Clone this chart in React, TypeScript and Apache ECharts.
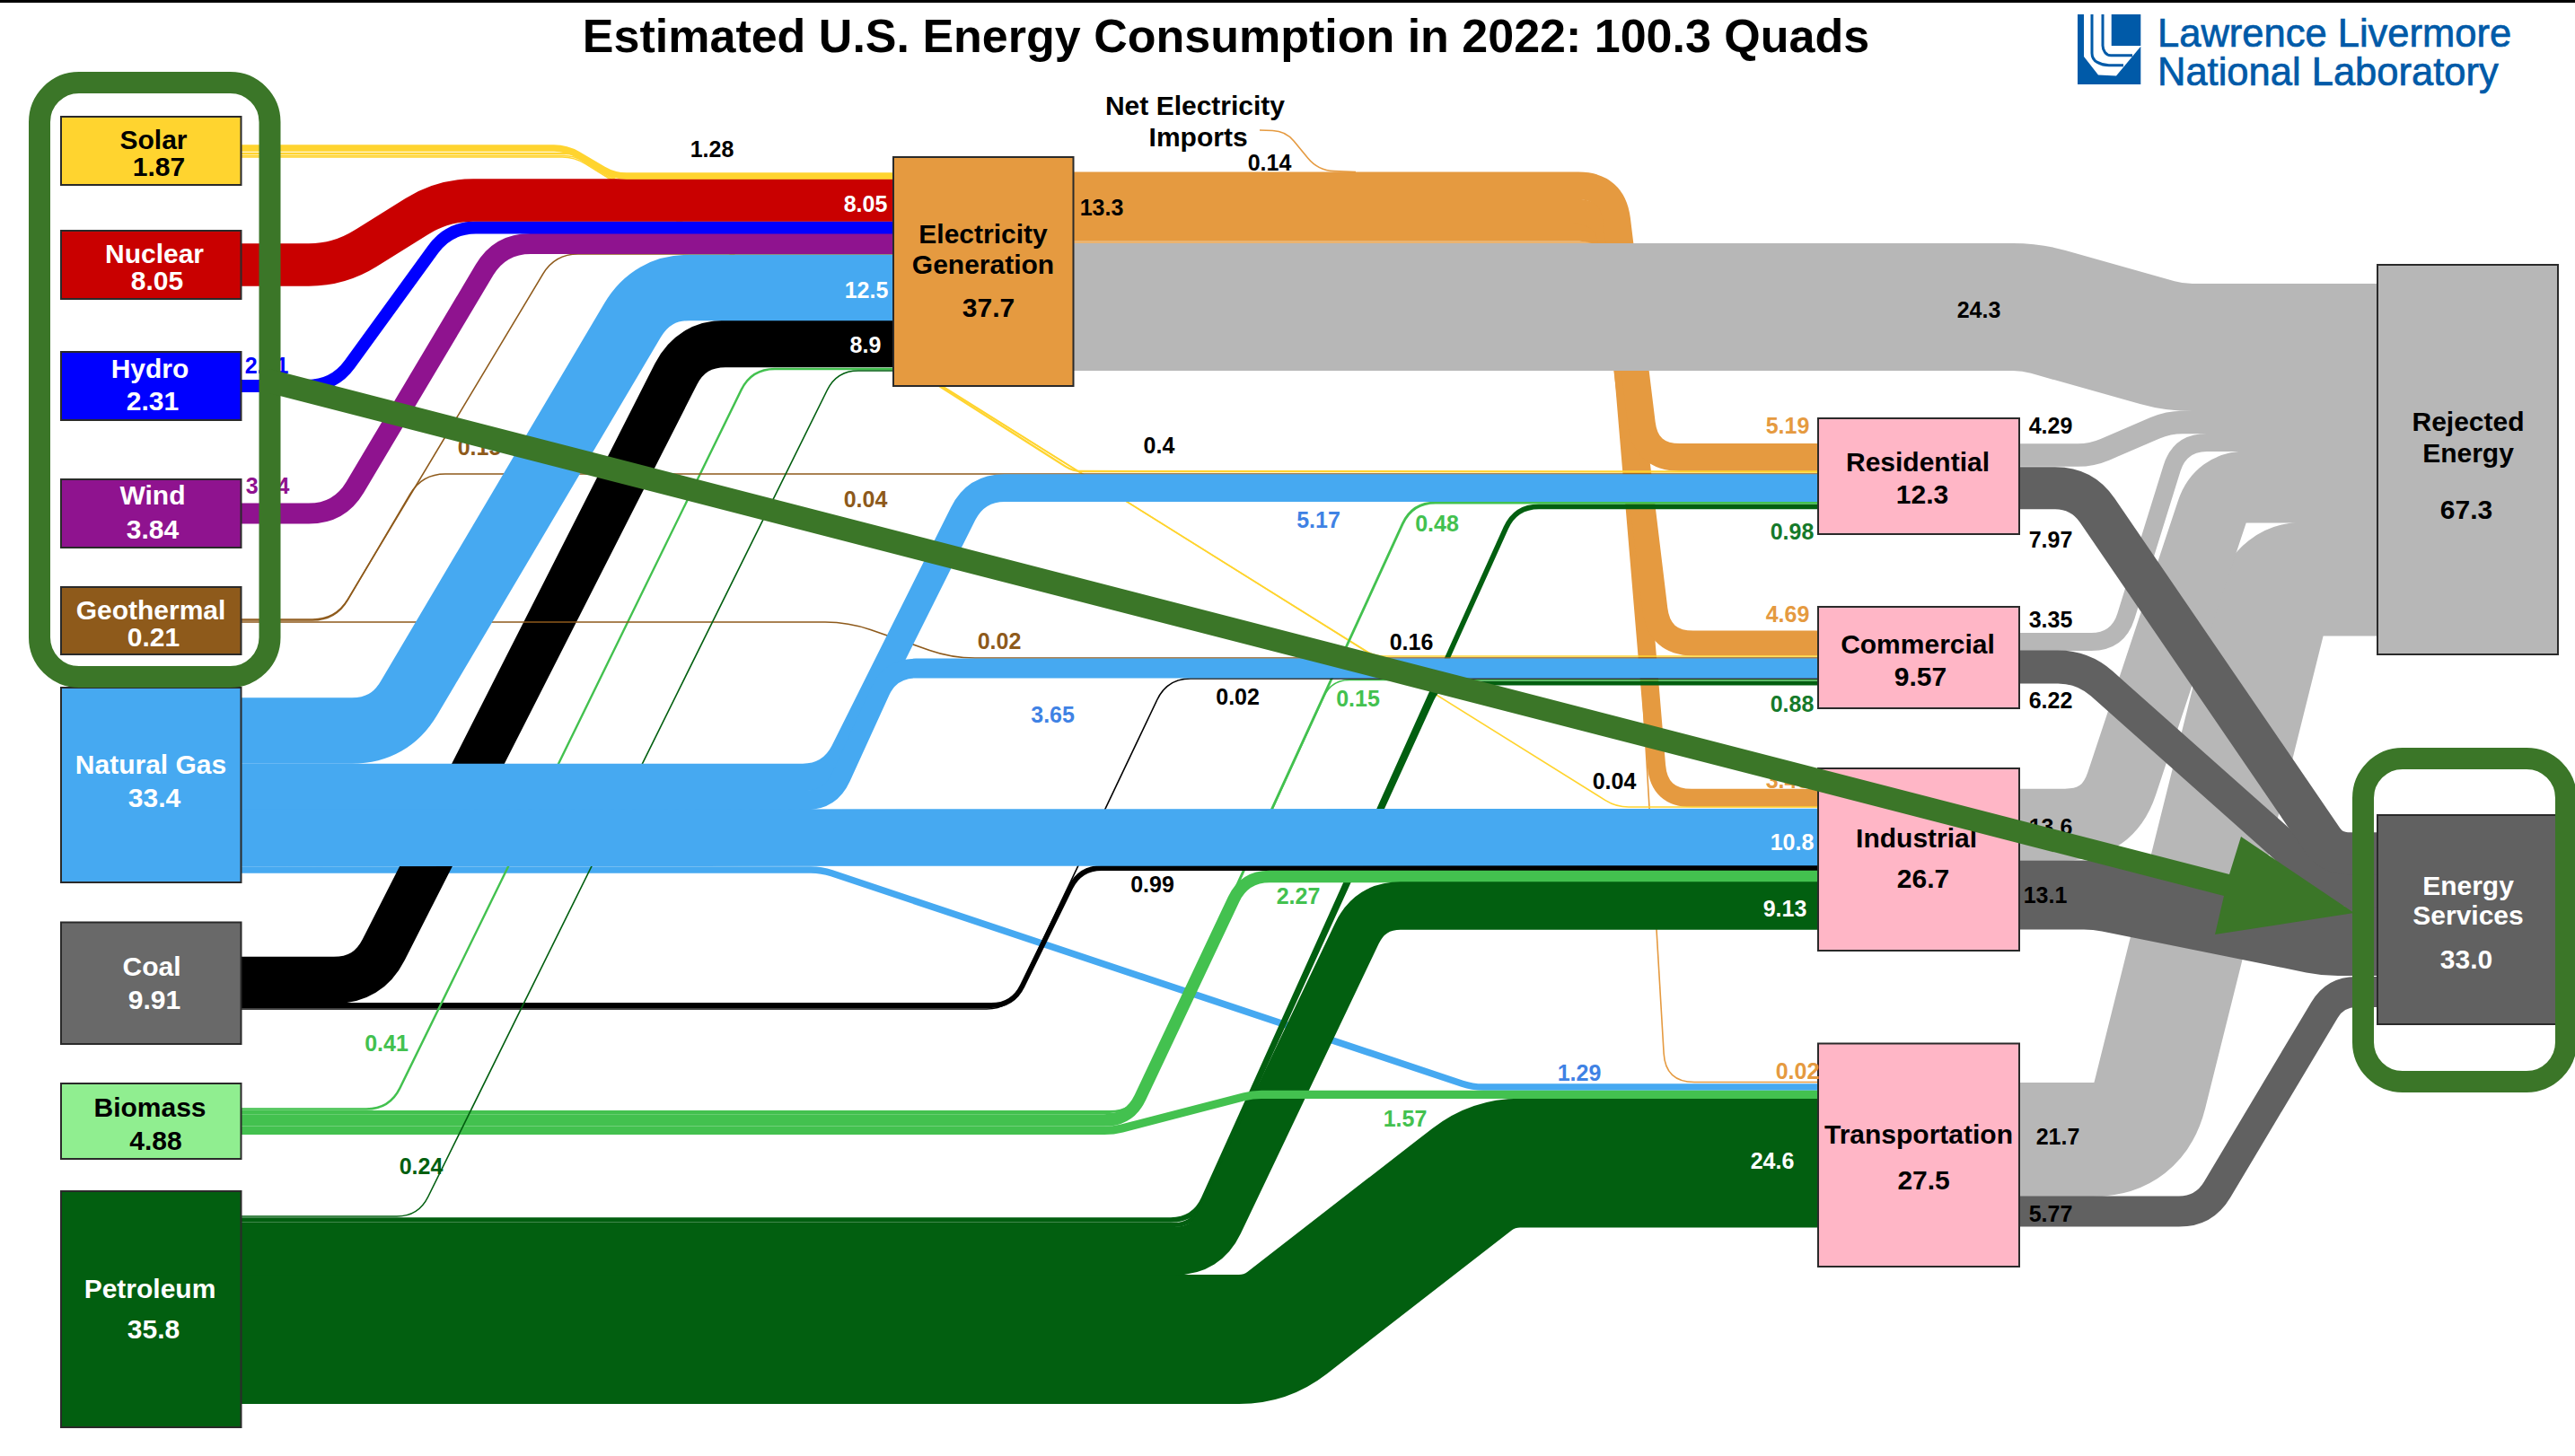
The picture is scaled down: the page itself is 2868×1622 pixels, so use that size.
import React, { useEffect, useRef } from "react";
import * as echarts from "echarts";

// ---------- data (quads) ----------
const sourceNames = ["Solar", "Nuclear", "Hydro", "Wind", "Geothermal", "Natural Gas", "Coal", "Biomass", "Petroleum"];
const sourceTotals = ["1.87", "8.05", "2.31", "3.84", "0.21", "33.4", "9.91", "4.88", "35.8"];
const sectorNames = ["Residential", "Commercial", "Industrial", "Transportation"];
const sectorTotals = ["12.3", "9.57", "26.7", "27.5"];
const electricityTotal = "37.7";
const rejectedTotal = "67.3";
const servicesTotal = "33.0";

const solarFlows = [1.28, 0.4, 0.16, 0.04];
const nuclearFlows = [8.05];
const hydroFlows = [2.31];
const windFlows = [3.84];
const geoFlows = [0.15, 0.04, 0.02];
const gasFlows = [12.5, 5.17, 3.65, 10.8, 1.29];
const coalFlows = [8.9, 0.99, 0.02];
const biomassFlows = [0.41, 0.48, 0.15, 2.27, 1.57];
const petroleumFlows = [0.24, 0.98, 0.88, 9.13, 24.6];
const electricityFlows = [24.3, 5.19, 4.69, 3.4, 0.02];
const importFlows = [0.14];
const residentialFlows = [4.29, 7.97];
const commercialFlows = [3.35, 6.22];
const industrialFlows = [13.6, 13.1];
const transportFlows = [21.7, 5.77];

// ---------- styles ----------
const PX_PER_QUAD = 5.83;
const MIN_WIDTH = 1.6;
const SEAM_OVERLAP = 0.5;
const FONT = '"Liberation Sans", Arial, sans-serif';
const C = {
  solar: "#FFD42F", nuclear: "#C90000", hydro: "#0000FF", wind: "#8F138F", geo: "#8E5A1B",
  gas: "#46A9F1", coalNode: "#696969", coal: "#000000", biomassNode: "#90EE90", biomass: "#43C14F",
  oil: "#025F10", elec: "#E59A40", rejected: "#B7B7B7", services: "#616161", pink: "#FFB6C6",
  mark: "#3B7628", logo: "#005AA8", gasText: "#3F82E4", oilText: "#157A2A", white: "#FFFFFF", black: "#000000",
};

// ---------- layout: route centre-lines in chart units, t = corner size ----------
type Route = { p: number[][]; t: number | number[] };
const R: Record<string, Route> = {
  elecRejected: { p: [[1195, 342], [2262, 342], [2422, 387], [2648, 387]], t: 20 },
  elecRes: { p: [[1195, 207], [1796, 207], [1833, 509.5], [2025, 509.5]], t: 38 },
  elecCom: { p: [[1195, 235.5], [1790, 235.5], [1848, 716.5], [2025, 716.5]], t: 38 },
  elecInd: { p: [[1195, 258.5], [1795, 258.5], [1848, 889], [2025, 889]], t: 36 },
  elecTrans: { p: [[1195, 270], [1800, 270], [1855, 1205.5], [2025, 1205.5]], t: 32 },
  imports: { p: [[1403, 145], [1432, 146], [1468, 190], [1510, 191.5]], t: 18 },
  solarElec: { p: [[268, 165], [631, 165], [684, 196], [995, 196]], t: 14 },
  solarRes: { p: [[268, 171], [640, 171], [1195, 525], [2025, 525.5]], t: 10 },
  solarCom: { p: [[268, 173.5], [640, 173.5], [1530, 731], [2025, 731]], t: 12 },
  solarInd: { p: [[268, 175], [640, 175], [1800, 899], [2025, 899]], t: 14 },
  nuclear: { p: [[268, 295], [378, 295], [493, 223], [995, 223]], t: 34 },
  hydro: { p: [[268, 430], [372, 430], [500, 253.5], [995, 253.5]], t: 30 },
  wind: { p: [[268, 572], [378, 572], [557, 271.5], [995, 271.5]], t: 34 },
  geoElec: { p: [[268, 690], [374, 690], [618, 283], [995, 283]], t: 26 },
  geoRes: { p: [[268, 691], [374, 691], [470, 528], [2025, 528]], t: 26 },
  geoCom: { p: [[268, 693], [945, 693], [1060, 733], [2025, 733]], t: 26 },
  gasElec: { p: [[268, 814], [434, 814], [726, 320.5], [995, 320.5]], t: 42 },
  gasRes: { p: [[268, 866], [926, 866], [1087, 543.6], [2025, 543.6]], t: 32 },
  gasCom: { p: [[268, 891.5], [925, 891.5], [992, 744.5], [2025, 744.5]], t: 28 },
  gasInd: { p: [[268, 933.5], [2025, 932.5]], t: 0 },
  gasTrans: { p: [[268, 969], [915, 969], [1640, 1211], [2025, 1211]], t: 12 },
  coalElec: { p: [[268, 1092], [410, 1092], [770, 383], [995, 383]], t: 38 },
  coalInd: { p: [[268, 1120], [1128, 1120], [1203, 967], [2025, 967]], t: 24 },
  coalCom: { p: [[268, 1124], [1125, 1124], [1300, 756], [2025, 756]], t: 26 },
  bioElec: { p: [[268, 1235.5], [434, 1235.5], [837, 411], [995, 411]], t: 26 },
  bioRes: { p: [[268, 1238.5], [1262, 1238.5], [1573, 560], [2025, 560]], t: 26 },
  bioCom: { p: [[268, 1240.5], [1262, 1240.5], [1483, 757.5], [2025, 757.5]], t: 20 },
  bioInd: { p: [[268, 1248], [1258, 1248], [1386, 976.5], [2025, 976.5]], t: 28 },
  bioTrans: { p: [[268, 1259.5], [1240, 1259.5], [1395, 1219.3], [2025, 1219.3]], t: 10 },
  oilElec: { p: [[268, 1355], [466, 1355], [932, 413], [995, 413]], t: 24 },
  oilRes: { p: [[268, 1359], [1330, 1359], [1688, 564.3], [2025, 564.3]], t: 26 },
  oilCom: { p: [[268, 1364.5], [1328, 1364.5], [1603, 761], [2025, 761]], t: 20 },
  oilInd: { p: [[268, 1393.5], [1343, 1393.5], [1526, 1009], [2025, 1009]], t: 34 },
  oilTrans: { p: [[268, 1492], [1410, 1492], [1663, 1295.6], [2025, 1295.6]], t: 30 },
  resRej: { p: [[2249, 507], [2330, 507], [2415, 470.5], [2648, 470.5]], t: 16 },
  comRej: { p: [[2249, 715], [2359, 715], [2428, 493], [2648, 493]], t: 30 },
  indRej: { p: [[2249, 918.6], [2348, 918.6], [2473, 542.5], [2648, 542.5]], t: [48, 30] },
  transRej: { p: [[2249, 1269.5], [2382, 1269.5], [2538, 645], [2648, 645]], t: [52, 30] },
  resSvc: { p: [[2249, 543.7], [2319, 543.7], [2597, 950.7], [2648, 950.7]], t: [30, 18] },
  comSvc: { p: [[2249, 743], [2320, 743], [2600, 992], [2648, 992]], t: [28, 20] },
  indSvc: { p: [[2249, 997], [2335, 997], [2590, 1048.5], [2648, 1048.5]], t: 14 },
  transSvc: { p: [[2249, 1349.5], [2455, 1349.5], [2601, 1105], [2648, 1105]], t: 28 },
};

// draw order: value, colour, route
const LINKS: [number, string, string][] = [
  [electricityFlows[4], C.elec, "elecTrans"],
  [electricityFlows[3], C.elec, "elecInd"],
  [electricityFlows[2], C.elec, "elecCom"],
  [electricityFlows[1], C.elec, "elecRes"],
  [importFlows[0], C.elec, "imports"],
  [electricityFlows[0], C.rejected, "elecRejected"],
  [solarFlows[3], C.solar, "solarInd"],
  [solarFlows[2], C.solar, "solarCom"],
  [solarFlows[1], C.solar, "solarRes"],
  [gasFlows[4], C.gas, "gasTrans"],
  [petroleumFlows[1], C.oil, "oilRes"],
  [petroleumFlows[2], C.oil, "oilCom"],
  [biomassFlows[1], C.biomass, "bioRes"],
  [biomassFlows[2], C.biomass, "bioCom"],
  [coalFlows[0], C.coal, "coalElec"],
  [coalFlows[2], C.coal, "coalCom"],
  [coalFlows[1], C.coal, "coalInd"],
  [biomassFlows[0], C.biomass, "bioElec"],
  [geoFlows[0], C.geo, "geoElec"],
  [geoFlows[1], C.geo, "geoRes"],
  [geoFlows[2], C.geo, "geoCom"],
  [biomassFlows[3], C.biomass, "bioInd"],
  [petroleumFlows[4], C.oil, "oilTrans"],
  [petroleumFlows[3], C.oil, "oilInd"],
  [biomassFlows[4], C.biomass, "bioTrans"],
  [petroleumFlows[0], C.oil, "oilElec"],
  [gasFlows[0], C.gas, "gasElec"],
  [gasFlows[1], C.gas, "gasRes"],
  [gasFlows[2], C.gas, "gasCom"],
  [gasFlows[3], C.gas, "gasInd"],
  [windFlows[0], C.wind, "wind"],
  [hydroFlows[0], C.hydro, "hydro"],
  [nuclearFlows[0], C.nuclear, "nuclear"],
  [solarFlows[0], C.solar, "solarElec"],
  [transportFlows[0], C.rejected, "transRej"],
  [industrialFlows[0], C.rejected, "indRej"],
  [commercialFlows[0], C.rejected, "comRej"],
  [residentialFlows[0], C.rejected, "resRej"],
  [transportFlows[1], C.services, "transSvc"],
  [industrialFlows[1], C.services, "indSvc"],
  [commercialFlows[1], C.services, "comSvc"],
  [residentialFlows[1], C.services, "resSvc"],
];

const SRC_X = [68, 268.5];
const SRC_Y = [[130, 206], [257, 333], [392, 468], [534, 610], [654, 729], [766, 983], [1027.5, 1163], [1207, 1291], [1327, 1590]];
const SRC_FILL = [C.solar, C.nuclear, C.hydro, C.wind, C.geo, C.gas, C.coalNode, C.biomassNode, C.oil];
const SRC_TEXT = [C.black, C.white, C.white, C.white, C.white, C.white, C.white, C.black, C.white];
const SEC_X = [2025, 2249];
const SEC_Y = [[466, 595], [676, 789], [856, 1059], [1162.5, 1411]];

const SRC_LABEL_POS = [
  [171, 155, 177, 185], [172, 282, 175, 312.5], [167, 410, 170, 446], [170, 551.5, 170, 589], [168, 679, 171, 709],
  [168, 851, 172, 888], [169, 1076, 172, 1113], [167, 1233, 173.5, 1270], [167, 1435, 171, 1480],
];
const SEC_LABEL_POS = [
  [2136, 514, 2141, 550], [2136, 717, 2139, 753.6], [2134.6, 933.6, 2142, 978.6], [2137, 1263, 2142.6, 1314.6],
];

// value labels: text, x, y, colour
const VALUE_LABELS: [string, number, number, string][] = [
  [String(solarFlows[0]), 793, 166, C.black],
  [String(nuclearFlows[0]), 964, 227, C.white],
  [String(gasFlows[0]), 965, 323, C.white],
  [String(coalFlows[0]), 964, 384, C.white],
  [String(hydroFlows[0]), 297, 407, C.hydro],
  [String(windFlows[0]), 298, 541, C.wind],
  [String(geoFlows[0]), 534, 498, C.geo],
  [String(geoFlows[1]), 964, 556, C.geo],
  [String(geoFlows[2]), 1113, 713.6, C.geo],
  [String(biomassFlows[0]), 430.5, 1162, C.biomass],
  [String(petroleumFlows[0]), 469, 1299, C.oil],
  [String(electricityFlows[0]), 2204, 344.6, C.black],
  ["13.3", 1227, 231, C.black],
  [String(importFlows[0]), 1414, 181, C.black],
  [String(solarFlows[1]), 1291, 496, C.black],
  [String(gasFlows[1]), 1468.5, 578.6, C.gasText],
  [String(biomassFlows[1]), 1600.5, 583, C.biomass],
  [String(solarFlows[2]), 1572, 714.6, C.black],
  [String(coalFlows[2]), 1378.6, 776, C.black],
  [String(biomassFlows[2]), 1512.5, 778, C.biomass],
  [String(gasFlows[2]), 1172.6, 796, C.gasText],
  [String(solarFlows[3]), 1798, 870, C.black],
  [String(coalFlows[1]), 1283.5, 985, C.black],
  [String(biomassFlows[3]), 1446, 997.5, C.biomass],
  [String(gasFlows[4]), 1759, 1194.6, C.gasText],
  [String(biomassFlows[4]), 1565, 1246, C.biomass],
  [String(electricityFlows[1]), 1991, 474, C.elec],
  [String(residentialFlows[0]), 2284, 474, C.black],
  [String(petroleumFlows[1]), 1996, 592, C.oilText],
  [String(residentialFlows[1]), 2284, 601, C.black],
  [String(electricityFlows[2]), 1991, 683.6, C.elec],
  [String(commercialFlows[0]), 2284, 690, C.black],
  [String(petroleumFlows[2]), 1996, 784, C.oilText],
  [String(commercialFlows[1]), 2284, 780, C.black],
  [electricityFlows[3].toFixed(2), 1991, 868.6, C.elec],
  [String(gasFlows[3]), 1996, 937.5, C.white],
  [String(petroleumFlows[3]), 1988, 1012, C.white],
  [String(industrialFlows[0]), 2284, 921, C.black],
  [String(industrialFlows[1]), 2278, 997, C.black],
  [String(electricityFlows[4]), 2002, 1193, C.elec],
  [String(petroleumFlows[4]), 1974, 1293, C.white],
  [String(transportFlows[0]), 2292, 1266, C.black],
  [String(transportFlows[1]), 2284, 1352, C.black],
];

const ARROW = [[300, 411], [2483, 974], [2496, 932], [2622, 1017], [2467, 1041], [2477, 998], [300, 438]];

// ---------- helpers ----------
function routePath(route: Route, api: any) {
  const pts = route.p.map((q) => api.coord(q));
  let d = `M${pts[0][0]} ${pts[0][1]}`;
  for (let i = 1; i < pts.length - 1; i++) {
    const [ax, ay] = pts[i - 1];
    const [bx, by] = pts[i];
    const [cx, cy] = pts[i + 1];
    const tt = Array.isArray(route.t) ? route.t[i - 1] : route.t;
    const l1 = Math.hypot(bx - ax, by - ay);
    const l2 = Math.hypot(cx - bx, cy - by);
    const t = Math.min(tt, l1 / 2, l2 / 2);
    d += `L${bx - ((bx - ax) * t) / l1} ${by - ((by - ay) * t) / l1}`;
    d += `Q${bx} ${by} ${bx + ((cx - bx) * t) / l2} ${by + ((cy - by) * t) / l2}`;
  }
  const e = pts[pts.length - 1];
  d += `L${e[0]} ${e[1]}`;
  return d;
}

function rectEl(api: any, x0: number, y0: number, x1: number, y1: number, fill: string, stroke = "#2A2A2A", lw = 2, r = 0) {
  const a = api.coord([x0, y0]);
  const b = api.coord([x1, y1]);
  return {
    type: "rect",
    shape: { x: a[0], y: a[1], width: b[0] - a[0], height: b[1] - a[1], r },
    style: { fill, stroke, lineWidth: lw },
  };
}

function textEl(api: any, text: string, x: number, y: number, fill: string, fontSize: number, fontWeight = "bold", align = "center") {
  const p = api.coord([x, y]);
  return {
    type: "text",
    style: { text, x: p[0], y: p[1], fill, fontSize, fontWeight, fontFamily: FONT, align, verticalAlign: "middle" },
  };
}

function logoText(api: any, text: string, x: number, y: number) {
  const p = api.coord([x, y]);
  return {
    type: "text",
    x: p[0],
    y: p[1],
    scaleX: 1.036,
    scaleY: 1.05,
    style: {
      text, x: 0, y: 0, fill: C.logo, stroke: C.logo, lineWidth: 0.7,
      fontSize: 42, fontWeight: "normal", fontFamily: FONT, align: "left", verticalAlign: "middle",
    },
  };
}

function anchor(n: number) {
  return Array.from({ length: n }, () => [1000, 800]);
}

// ---------- node items ----------
const nodeItems: ((api: any) => any)[] = [];
SRC_Y.forEach((y, i) => nodeItems.push((api) => rectEl(api, SRC_X[0], y[0], SRC_X[1], y[1], SRC_FILL[i])));
SEC_Y.forEach((y) => nodeItems.push((api) => rectEl(api, SEC_X[0], y[0], SEC_X[1], y[1], C.pink)));
nodeItems.push((api) => rectEl(api, 995, 175, 1195.5, 430, C.elec));
nodeItems.push((api) => rectEl(api, 2648, 295, 2849, 729, C.rejected));
nodeItems.push((api) => rectEl(api, 2648, 908, 2847, 1141, C.services));

// ---------- text items ----------
const textItems: ((api: any) => any)[] = [];
textItems.push((api) => textEl(api, "Estimated U.S. Energy Consumption in 2022: 100.3 Quads", 1365.5, 40, C.black, 52));
textItems.push((api) => logoText(api, "Lawrence Livermore", 2403, 36.5));
textItems.push((api) => logoText(api, "National Laboratory", 2403, 79));
sourceNames.forEach((name, i) => {
  const q = SRC_LABEL_POS[i];
  textItems.push((api) => textEl(api, name, q[0], q[1], SRC_TEXT[i], 30));
  textItems.push((api) => textEl(api, sourceTotals[i], q[2], q[3], SRC_TEXT[i], 30));
});
sectorNames.forEach((name, i) => {
  const q = SEC_LABEL_POS[i];
  textItems.push((api) => textEl(api, name, q[0], q[1], C.black, 30));
  textItems.push((api) => textEl(api, sectorTotals[i], q[2], q[3], C.black, 30));
});
textItems.push((api) => textEl(api, "Electricity", 1095, 260, C.black, 30));
textItems.push((api) => textEl(api, "Generation", 1095, 294, C.black, 30));
textItems.push((api) => textEl(api, electricityTotal, 1101, 342, C.black, 30));
textItems.push((api) => textEl(api, "Rejected", 2749, 469.6, C.black, 30));
textItems.push((api) => textEl(api, "Energy", 2749, 504, C.black, 30));
textItems.push((api) => textEl(api, rejectedTotal, 2747, 567, C.black, 30));
textItems.push((api) => textEl(api, "Energy", 2749, 986, C.white, 30));
textItems.push((api) => textEl(api, "Services", 2749, 1019, C.white, 30));
textItems.push((api) => textEl(api, servicesTotal, 2747, 1068, C.white, 30));
textItems.push((api) => textEl(api, "Net Electricity", 1331, 117, C.black, 30));
textItems.push((api) => textEl(api, "Imports", 1334.6, 152, C.black, 30));
VALUE_LABELS.forEach(([t, x, y, c]) => textItems.push((api) => textEl(api, t, x, y, c, 25)));

// ---------- overlay items ----------
const LOGO_BLOCK: number[][] = [[2314, 16], [2321, 16], [2321, 63], [2337, 83.5], [2357, 84.5], [2384.3, 51.7], [2384.3, 94], [2314, 94]];
const overlayItems: ((api: any) => any)[] = [
  (api) => rectEl(api, 0, 0, 2868, 3, C.black, "none", 0),
  (api) => rectEl(api, 44, 92, 300.5, 754, "none", C.mark, 24, 44),
  (api) => rectEl(api, 2632, 845, 2858, 1205, "none", C.mark, 24, 44),
  (api) => ({
    type: "polygon",
    shape: { points: ARROW.map((q) => api.coord(q)) },
    style: { fill: C.mark },
  }),
  (api) => ({
    type: "polygon",
    shape: { points: LOGO_BLOCK.map((q) => api.coord(q)) },
    style: { fill: C.logo },
  }),
  (api) => rectEl(api, 2351.7, 16, 2384.3, 51, C.logo, "none", 0),
  (api) => ({
    type: "path",
    shape: { pathData: routePath({ p: [[2330, 16], [2330, 66], [2342, 72.7], [2365, 72.7]], t: 12 }, api) },
    style: { fill: "none", stroke: C.logo, lineWidth: 3 },
  }),
  (api) => ({
    type: "path",
    shape: { pathData: routePath({ p: [[2342, 16], [2342, 55], [2347, 61.7], [2375, 61.7]], t: 6 }, api) },
    style: { fill: "none", stroke: C.logo, lineWidth: 3 },
  }),
];

function itemSeries(items: ((api: any) => any)[], z: number) {
  return {
    type: "custom",
    coordinateSystem: "cartesian2d",
    silent: true,
    clip: false,
    z,
    data: anchor(items.length),
    encode: { x: 0, y: 1 },
    renderItem: (params: any, api: any) => items[params.dataIndex](api),
  };
}

const option = {
  animation: false,
  backgroundColor: "#FFFFFF",
  grid: { left: 0, right: 0, top: 0, bottom: 0, containLabel: false },
  xAxis: { type: "value", min: 0, max: 2868, show: false },
  yAxis: { type: "value", min: 0, max: 1622, inverse: true, show: false },
  tooltip: { show: false },
  series: [
    {
      type: "custom",
      coordinateSystem: "cartesian2d",
      silent: true,
      clip: false,
      z: 2,
      data: LINKS.map(([v, , r]) => [R[r].p[0][0], R[r].p[0][1], v]),
      encode: { x: 0, y: 1 },
      renderItem: (params: any, api: any) => {
        const [v, color, r] = LINKS[params.dataIndex];
        const w = v * PX_PER_QUAD;
        const lineWidth = w < MIN_WIDTH ? MIN_WIDTH : w > 10 ? w + SEAM_OVERLAP : w;
        return {
          type: "path",
          shape: { pathData: routePath(R[r], api) },
          style: { fill: "none", stroke: color, lineWidth, lineJoin: "round" },
        };
      },
    },
    itemSeries(nodeItems, 3),
    itemSeries(textItems, 4),
    itemSeries(overlayItems, 5),
  ],
};

export default function App() {
  const ref = useRef<HTMLDivElement>(null);
  useEffect(() => {
    document.body.style.margin = "0";
    const chart = echarts.init(ref.current!, null, { renderer: "svg" });
    chart.setOption(option as any);
    return () => chart.dispose();
  }, []);
  return <div ref={ref} style={{ position: "absolute", left: 0, top: 0, width: 2868, height: 1622 }} />;
}
